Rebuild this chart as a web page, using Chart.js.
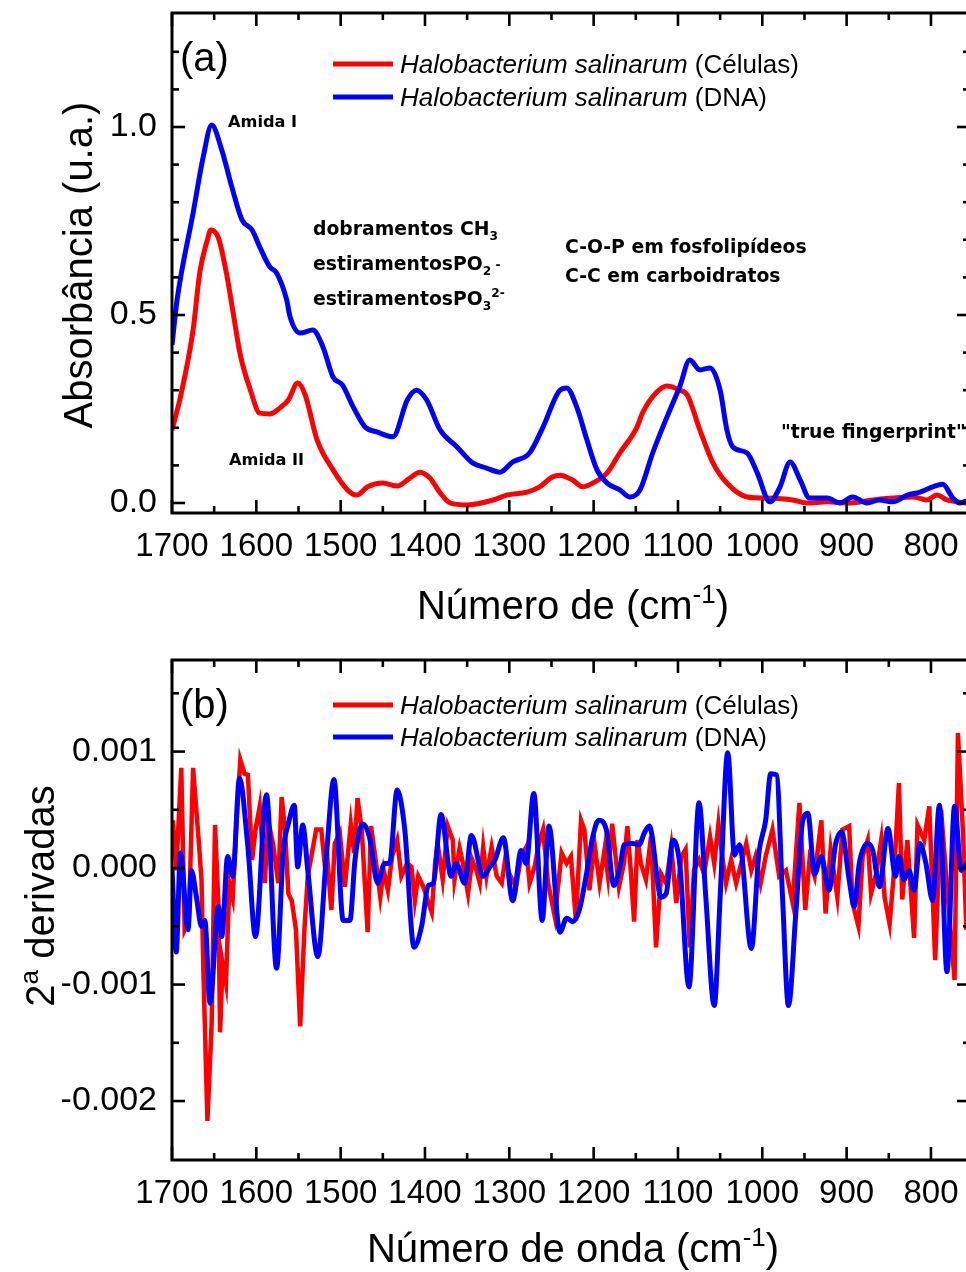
<!DOCTYPE html>
<html><head><meta charset="utf-8">
<script src="https://cdn.jsdelivr.net/npm/chart.js@4.4.1/dist/chart.umd.min.js"></script>
<style>
html,body{margin:0;padding:0;background:#fff;overflow:hidden;width:966px;height:1272px;position:relative;}
#wrapA{position:absolute;left:0;top:0;width:980px;height:640px;}
#wrapB{position:absolute;left:0;top:640px;width:980px;height:632px;}
canvas{display:block;}
</style></head><body>
<div id="wrapA"><canvas id="cA" width="980" height="640"></canvas></div>
<div id="wrapB"><canvas id="cB" width="980" height="632"></canvas></div>
<script>
// ---------- DATA ----------
// Panel (a): absorbance
const wnCelA = [1700,1690,1675,1667,1658,1654,1645,1635,1628,1619,1607,1596,1584,1572,1562,1551,1542,1528,1509,1492,1481,1468,1450,1433,1418,1406,1394,1382,1370,1350,1319,1303,1279,1264,1249,1240,1225,1213,1201,1184,1169,1149,1142,1125,1113,1098,1089,1074,1059,1042,1018,994,964,947,923,896,869,845,821,805,793,781,758];
const absCel = [0.194,0.282,0.46,0.614,0.70,0.726,0.705,0.606,0.513,0.394,0.30,0.239,0.237,0.253,0.274,0.319,0.287,0.168,0.088,0.035,0.021,0.043,0.053,0.045,0.066,0.082,0.066,0.027,0.0,-0.005,0.008,0.021,0.029,0.043,0.069,0.074,0.061,0.043,0.053,0.08,0.133,0.2,0.24,0.295,0.311,0.30,0.287,0.194,0.109,0.053,0.016,0.013,0.008,0.0,0.003,0.0,0.008,0.013,0.016,0.008,0.021,0.008,0.0];
const wnDnaA = [1700,1694,1675,1663,1653,1641,1629,1617,1605,1596,1584,1576,1564,1560,1548,1533,1521,1509,1498,1485,1471,1457,1438,1421,1410,1398,1382,1362,1343,1327,1311,1296,1276,1260,1240,1232,1220,1208,1196,1184,1169,1157,1145,1130,1113,1098,1086,1074,1062,1050,1042,1035,1018,1006,991,979,967,955,944,923,908,893,876,861,845,828,813,798,786,774,766,758];
const absDna = [0.42,0.54,0.771,0.92,1.005,0.939,0.84,0.753,0.726,0.681,0.628,0.612,0.54,0.495,0.452,0.46,0.415,0.335,0.314,0.255,0.202,0.189,0.176,0.274,0.30,0.274,0.194,0.149,0.106,0.093,0.082,0.109,0.133,0.202,0.30,0.306,0.255,0.168,0.088,0.053,0.035,0.016,0.035,0.133,0.229,0.309,0.38,0.354,0.359,0.30,0.194,0.149,0.133,0.08,0.003,0.043,0.109,0.061,0.013,0.013,0.0,0.016,0.0,0.008,0.003,0.021,0.029,0.043,0.05,0.013,0.0,0.005];

// Panel (b): second derivatives
const wnCelB = [1700,1699,1695,1689,1685,1680,1675,1669,1665,1663,1658,1653,1649,1645,1643,1640,1636,1632,1628,1624,1619,1614,1610,1605,1601,1596,1590,1586,1580,1574,1570,1566,1562,1558,1553,1548,1543,1539,1529,1523,1519,1516,1511,1507,1501,1495,1488,1484,1480,1475,1468,1464,1458,1453,1449,1444,1439,1433,1428,1421,1416,1412,1408,1402,1398,1392,1388,1385,1379,1373,1367,1365,1359,1355,1349,1344,1339,1335,1331,1327,1321,1315,1309,1305,1300,1292,1286,1280,1276,1270,1265,1260,1254,1246,1238,1232,1227,1221,1215,1211,1205,1199,1193,1187,1183,1178,1174,1170,1164,1160,1156,1152,1148,1144,1138,1132,1126,1120,1114,1108,1102,1096,1091,1086,1081,1075,1069,1062,1057,1052,1047,1043,1037,1031,1025,1019,1013,1008,1002,996,988,980,972,964,956,949,944,938,930,925,919,911,905,897,893,886,881,875,871,865,859,855,849,843,838,834,828,820,816,808,802,795,788,780,772,768,762,758];
const d2Cel = [0.35e-3,0.41e-3,-0.02e-3,0.86e-3,-0.53e-3,-0.45e-3,0.86e-3,0.30e-3,-0.10e-3,-0.82e-3,-2.17e-3,-1.34e-3,0.37e-3,-0.30e-3,-1.41e-3,-0.82e-3,-0.99e-3,-0.13e-3,-0.26e-3,0.33e-3,0.93e-3,0.81e-3,0.80e-3,0.07e-3,0.33e-3,0.53e-3,-0.13e-3,0.41e-3,0.20e-3,-0.13e-3,0.61e-3,0.33e-3,-0.22e-3,-0.28e-3,-0.53e-3,-1.36e-3,-0.53e-3,-0.07e-3,0.33e-3,0.33e-3,0.04e-3,0.10e-3,-0.36e-3,0.21e-3,0.30e-3,-0.16e-3,0.38e-3,0.13e-3,0.60e-3,0.33e-3,-0.55e-3,0.36e-3,0.04e-3,-0.25e-3,-0.02e-3,-0.19e-3,0.10e-3,0.24e-3,-0.07e-3,0.04e-3,0.01e-3,-0.28e-3,-0.07e-3,-0.16e-3,-0.25e-3,-0.38e-3,0.04e-3,0.21e-3,-0.10e-3,0.36e-3,0.24e-3,-0.10e-3,0.17e-3,0.04e-3,-0.22e-3,0.07e-3,-0.02e-3,-0.13e-3,0.18e-3,-0.07e-3,0.18e-3,-0.07e-3,-0.13e-3,0.07e-3,-0.05e-3,-0.16e-3,0.10e-3,0.18e-3,-0.13e-3,0.01e-3,0.21e-3,0.33e-3,-0.13e-3,-0.42e-3,0.13e-3,0.04e-3,0.10e-3,-0.45e-3,0.41e-3,0.33e-3,-0.19e-3,0.21e-3,-0.13e-3,0.16e-3,-0.07e-3,0.38e-3,0.10e-3,-0.16e-3,0.04e-3,0.36e-3,-0.02e-3,-0.46e-3,0.24e-3,0.04e-3,-0.10e-3,0.27e-3,-0.68e-3,-0.05e-3,-0.13e-3,0.18e-3,-0.30e-3,0.10e-3,0.16e-3,-0.68e-3,-0.02e-3,0.07e-3,-0.05e-3,0.27e-3,0.04e-3,0.38e-3,0.07e-3,-0.13e-3,0.07e-3,-0.13e-3,0.04e-3,0.21e-3,-0.02e-3,0.10e-3,-0.13e-3,0.10e-3,0.33e-3,-0.07e-3,-0.02e-3,-0.30e-3,0.56e-3,-0.36e-3,0.07e-3,-0.07e-3,0.41e-3,-0.39e-3,0.16e-3,-0.25e-3,0.33e-3,0.36e-3,-0.30e-3,-0.50e-3,0.10e-3,0.24e-3,-0.22e-3,-0.05e-3,0.24e-3,-0.25e-3,-0.48e-3,0.04e-3,0.73e-3,-0.27e-3,0.24e-3,-0.60e-3,0.37e-3,0.24e-3,0.53e-3,-0.79e-3,0.50e-3,-0.25e-3,-0.96e-3,1.16e-3,0.30e-3,-0.53e-3];
const wnDnaB = [1700,1695,1690,1681,1677,1671,1665,1661,1655,1645,1641,1634,1628,1620,1610,1601,1588,1576,1568,1562,1555,1551,1545,1539,1527,1517,1508,1497,1489,1483,1474,1466,1456,1448,1442,1433,1424,1413,1404,1396,1390,1381,1369,1363,1353,1345,1331,1323,1317,1307,1296,1286,1280,1271,1261,1253,1240,1232,1225,1217,1209,1201,1194,1185,1176,1168,1164,1154,1146,1140,1134,1120,1114,1106,1098,1087,1075,1067,1057,1050,1041,1033,1027,1013,1004,996,990,983,976,969,960,952,946,938,930,921,913,906,897,891,885,875,869,861,851,842,838,832,826,820,813,806,798,790,781,772,764,758];
const d2Dna = [0.0,-0.72e-3,0.13e-3,-0.53e-3,-0.02e-3,-0.25e-3,-0.50e-3,-0.45e-3,-1.16e-3,-0.33e-3,-0.59e-3,0.10e-3,-0.07e-3,0.77e-3,0.18e-3,-0.59e-3,0.63e-3,-0.86e-3,0.15e-3,0.38e-3,0.54e-3,0.01e-3,0.37e-3,-0.02e-3,-0.76e-3,0.10e-3,0.76e-3,-0.45e-3,-0.45e-3,0.07e-3,0.38e-3,0.27e-3,-0.13e-3,0.04e-3,0.04e-3,0.67e-3,0.33e-3,-0.68e-3,-0.50e-3,-0.15e-3,-0.13e-3,0.46e-3,-0.07e-3,0.04e-3,-0.13e-3,0.28e-3,-0.07e-3,0.01e-3,0.07e-3,0.26e-3,-0.28e-3,0.15e-3,0.04e-3,0.64e-3,-0.45e-3,0.36e-3,-0.55e-3,-0.43e-3,-0.46e-3,-0.36e-3,-0.07e-3,0.27e-3,0.41e-3,0.33e-3,-0.15e-3,0.04e-3,0.20e-3,0.21e-3,0.20e-3,0.30e-3,0.36e-3,-0.25e-3,-0.22e-3,0.24e-3,0.04e-3,-1.02e-3,0.56e-3,-0.25e-3,-1.18e-3,-0.25e-3,0.99e-3,0.11e-3,0.20e-3,-0.69e-3,0.13e-3,0.41e-3,0.81e-3,0.80e-3,-0.25e-3,-1.18e-3,-0.36e-3,0.41e-3,0.47e-3,-0.05e-3,0.10e-3,-0.19e-3,0.21e-3,0.31e-3,-0.10e-3,-0.33e-3,0.04e-3,0.21e-3,0.15e-3,-0.16e-3,0.34e-3,-0.07e-3,0.10e-3,-0.10e-3,-0.02e-3,-0.19e-3,0.21e-3,0.04e-3,-0.28e-3,0.54e-3,-0.89e-3,0.53e-3,-0.02e-3,0.04e-3];

// Tick values / labels
const xMajorTicks = [1700,1600,1500,1400,1300,1200,1100,1000,900,800];
const xMinorTicks = [1650,1550,1450,1350,1250,1150,1050,950,850];
const yMajorA = [0.0,0.5,1.0];
const yMinorA = [0.1,0.2,0.3,0.4,0.6,0.7,0.8,0.9,1.1,1.2];
const yMajorB = [-0.002,-0.001,0.0,0.001];
const yMinorB = [-0.0015,-0.0005,0.0005,0.0015];
const legendLabels = [['Halobacterium salinarum',' (Células)'],['Halobacterium salinarum',' (DNA)']];

// ---------- STYLE ----------
const SANS = "'Liberation Sans', Arial, sans-serif";
const BOLD = "'DejaVu Sans', Verdana, sans-serif";
const RED = '#FF0000', BLUE = '#0000FF';

function pts(xs, ys){ return xs.map((x,i)=>({x:x, y:ys[i]})); }

function fontFor(p, o){
  const s = p.k ? o.size*0.65 : o.size;
  return (p.it?'italic ':'') + (o.weight||'normal') + ' ' + s + 'px ' + o.family;
}
function drawRich(ctx, x, y, parts, o){
  let total = 0;
  for (const p of parts){ ctx.font = fontFor(p,o); total += ctx.measureText(p.t).width; }
  let cx = o.align === 'center' ? x - total/2 : x;
  ctx.textAlign = 'left'; ctx.textBaseline = 'alphabetic'; ctx.fillStyle = '#000';
  for (const p of parts){
    ctx.font = fontFor(p,o);
    const dy = p.k==='sub' ? 0.25*o.size : p.k==='sup' ? -0.42*o.size : p.k==='mid' ? -0.05*o.size : 0;
    ctx.fillText(p.t, cx, y+dy);
    cx += ctx.measureText(p.t).width;
  }
}
function frameAndTicks(chart, yMaj, yMin){
  const ctx = chart.ctx, a = chart.chartArea, sx = chart.scales.x, sy = chart.scales.y;
  ctx.save();
  ctx.strokeStyle = '#000'; ctx.lineWidth = 2.6; ctx.lineCap = 'butt';
  const line = (x1,y1,x2,y2)=>{ ctx.beginPath(); ctx.moveTo(x1,y1); ctx.lineTo(x2,y2); ctx.stroke(); };
  const xt = (v,len)=>{ const p = sx.getPixelForValue(v); line(p,a.bottom,p,a.bottom-len); line(p,a.top,p,a.top+len); };
  const yt = (v,len)=>{ const p = sy.getPixelForValue(v); line(a.left,p,a.left+len,p); line(a.right,p,a.right-len,p); };
  xMajorTicks.forEach(v=>xt(v,13)); xMinorTicks.forEach(v=>xt(v,7));
  yMaj.forEach(v=>yt(v,13)); yMin.forEach(v=>yt(v,7));
  ctx.lineWidth = 3;
  ctx.strokeRect(a.left, a.top, a.right-a.left, a.bottom-a.top);
  ctx.restore();
}
function drawLegend(ctx, yRed, yBlue){
  [[RED,yRed,legendLabels[0]],[BLUE,yBlue,legendLabels[1]]].forEach(([c,y,lab])=>{
    ctx.save(); ctx.strokeStyle = c; ctx.lineWidth = 5; ctx.lineCap='butt';
    ctx.beginPath(); ctx.moveTo(333,y); ctx.lineTo(393,y); ctx.stroke(); ctx.restore();
    drawRich(ctx, 400, y + 0.36*26, [{t:lab[0],it:true},{t:lab[1]}], {size:26,family:SANS});
  });
}
function drawYTitle(ctx, cx, cy, parts, size){
  ctx.save(); ctx.translate(cx, cy); ctx.rotate(-Math.PI/2);
  drawRich(ctx, 0, 0.36*size, parts, {size:size, family:SANS, align:'center'});
  ctx.restore();
}

const decorA = { id:'decorA', afterDraw(chart){
  const ctx = chart.ctx;
  frameAndTicks(chart, yMajorA, yMinorA);
  ctx.save();
  drawRich(ctx, 180, 57+0.36*40, [{t:'(a)'}], {size:40,family:SANS});
  drawLegend(ctx, 64, 97);
  const B = {size:18.8, family:BOLD, weight:'bold'};
  drawRich(ctx, 228, 127, [{t:'Amida I'}], {size:16.2,family:BOLD,weight:'bold'});
  drawRich(ctx, 229, 465, [{t:'Amida II'}], {size:16.2,family:BOLD,weight:'bold'});
  drawRich(ctx, 313, 235, [{t:'dobramentos CH'},{t:'3',k:'sub'}], B);
  drawRich(ctx, 313, 270, [{t:'estiramentosPO'},{t:'2',k:'sub'},{t:' -',k:'mid'}], B);
  drawRich(ctx, 313, 305, [{t:'estiramentosPO'},{t:'3',k:'sub'},{t:'2-',k:'sup'}], B);
  drawRich(ctx, 565, 253, [{t:'C-O-P em fosfolipídeos'}], B);
  drawRich(ctx, 565, 282, [{t:'C-C em carboidratos'}], B);
  drawRich(ctx, 781, 438, [{t:'"true fingerprint"'}], B);
  drawRich(ctx, 573, 605+0.36*40, [{t:'Número de (cm'},{t:'-1',k:'sup'},{t:')'}], {size:40,family:SANS,align:'center'});
  drawYTitle(ctx, 78, 265, [{t:'Absorbância (u.a.)'}], 40);
  ctx.restore();
}};
const decorB = { id:'decorB', afterDraw(chart){
  const ctx = chart.ctx;
  frameAndTicks(chart, yMajorB, yMinorB);
  ctx.save();
  drawRich(ctx, 180, 64+0.36*40, [{t:'(b)'}], {size:40,family:SANS});
  drawLegend(ctx, 65, 97);
  drawRich(ctx, 573, 608+0.36*40, [{t:'Número de onda (cm'},{t:'-1',k:'sup'},{t:')'}], {size:40,family:SANS,align:'center'});
  drawYTitle(ctx, 40, 256, [{t:'2'},{t:'a',k:'sup'},{t:' derivadas'}], 40);
  ctx.restore();
}};

function zeroPad(s){ s.paddingTop = 0; s.paddingBottom = 0; s.paddingLeft = 0; s.paddingRight = 0; }

function makeChart(id, dsets, yMin, yMax, yTicks, yFmt, padTop, xH, plugin){
  return new Chart(document.getElementById(id), {
    type:'line',
    data:{ datasets: dsets },
    options:{
      responsive:false, animation:false, events:[],
      layout:{ padding:{ top:padTop, right:10, left:0, bottom:0 } },
      plugins:{ legend:{display:false}, tooltip:{enabled:false} },
      elements:{ point:{ radius:0 } },
      scales:{
        x:{ type:'linear', reverse:true, min:753.7, max:1700,
            afterFit(s){ s.height = xH; zeroPad(s); },
            afterBuildTicks(s){ s.ticks = xMajorTicks.map(v=>({value:v})); },
            grid:{ display:false, drawTicks:false, tickLength:0 }, border:{ display:false },
            ticks:{ font:{ family:SANS, size:33 }, color:'#000', padding:14, maxRotation:0, autoSkip:false, callback:v=>String(v) } },
        y:{ type:'linear', min:yMin, max:yMax,
            afterFit(s){ s.width = 172; zeroPad(s); },
            afterBuildTicks(s){ s.ticks = yTicks.map(v=>({value:v})); },
            grid:{ display:false, drawTicks:false, tickLength:0 }, border:{ display:false },
            ticks:{ font:{ family:SANS, size:34 }, color:'#000', padding:15, autoSkip:false, callback:yFmt } }
      }
    },
    plugins:[plugin]
  });
}

makeChart('cA', [
  { label:'DNA', data:pts(wnDnaA, absDna), borderColor:BLUE, borderWidth:5, fill:false, cubicInterpolationMode:'monotone' },
  { label:'Células', data:pts(wnCelA, absCel), borderColor:RED, borderWidth:5, fill:false, cubicInterpolationMode:'monotone' }
], -0.0266, 1.3032, yMajorA, v=>v.toFixed(1), 13, 127, decorA);

makeChart('cB', [
  { label:'DNA', data:pts(wnDnaB, d2Dna), borderColor:BLUE, borderWidth:5, fill:false, cubicInterpolationMode:'monotone' },
  { label:'Células', data:pts(wnCelB, d2Cel), borderColor:RED, borderWidth:4.5, fill:false, tension:0 }
], -0.002506, 0.001786, yMajorB, v=>v.toFixed(3), 20, 112, decorB);
</script>
</body></html>
